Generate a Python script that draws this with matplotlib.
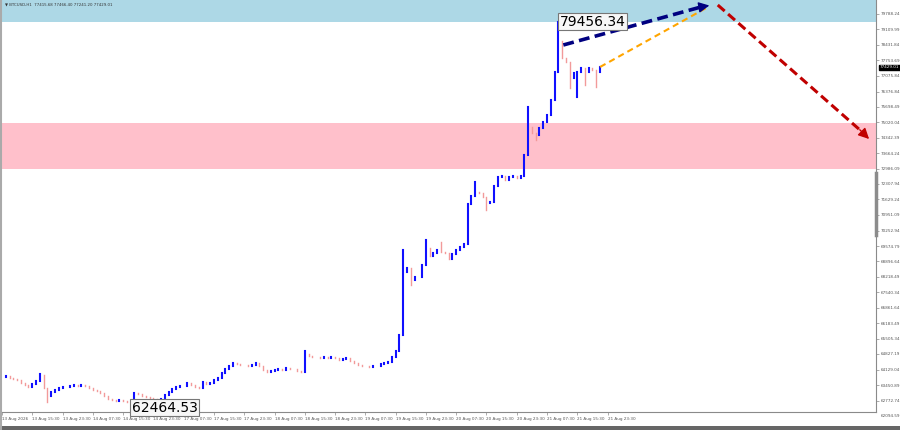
import matplotlib.pyplot as plt

# hourly closes, BTCUSD H1
closes = [
    63816, 63860, 63772, 63728, 63684, 63552, 63464, 63376, 63508, 63640,
    63904, 63332, 62980, 63156, 63244, 63332, 63376, 63390, 63420, 63464,
    63420, 63464, 63420, 63332, 63244, 63200, 63112, 62980, 62848, 62804,
    62760, 62804, 62760, 62716, 62540, 63112, 63068, 62980, 62936, 62892,
    62848, 62804, 62848, 63024, 63156, 63288, 63376, 63420, 63430, 63552,
    63464, 63376, 63332, 63596, 63508, 63552, 63684, 63772, 63992, 64168,
    64300, 64432, 64388, 64344, 64350, 64300, 64344, 64432, 64300, 64124,
    64036, 64080, 64124, 64168, 64124, 64212, 64168, 64160, 64080, 64036,
    64828, 64740, 64696, 64700, 64652, 64696, 64652, 64696, 64652, 64564,
    64608, 64652, 64520, 64432, 64344, 64300, 64290, 64256, 64300, 64310,
    64388, 64432, 64476, 64696, 64960, 65664, 68436, 68612, 68084, 68216,
    68230, 68744, 69492, 69140, 69272, 69404, 69316, 69272, 69008, 69228,
    69404, 69536, 69668, 71428, 71780, 71956, 71912, 71736, 71472, 71516,
    72220, 72616, 72660, 72484, 72616, 72660, 72572, 72660, 73584, 74816,
    74552, 74464, 74772, 75036, 75344, 76004, 77236, 78600, 77852, 77676,
    76972, 77192, 77236, 77412, 77236, 77412, 77324, 77236, 77456,
]
# wicks that stick out of the open/close range
spike_highs = {10: 63950, 80: 64960, 106: 69404, 112: 69844, 116: 69756,
               125: 72396, 139: 75696, 147: 79456.34}
spike_lows = {12: 62716, 34: 62464.53, 108: 67864, 128: 71164, 141: 74244,
              150: 76532, 152: 76136, 154: 76664, 157: 76576}

high_label = "79456.34"
low_label = "62464.53"
high_bar, low_bar = 147, 34

time_labels = ["13 Aug 2026", "13 Aug 15:30", "13 Aug 23:30", "14 Aug 07:30",
               "14 Aug 15:30", "14 Aug 23:30", "17 Aug 07:30", "17 Aug 15:30",
               "17 Aug 23:30", "18 Aug 07:30", "18 Aug 15:30", "18 Aug 23:30",
               "19 Aug 07:30", "19 Aug 15:30", "19 Aug 23:30", "20 Aug 07:30",
               "20 Aug 15:30", "20 Aug 23:30", "21 Aug 07:30", "21 Aug 15:30",
               "21 Aug 23:30"]
price_labels = ["79788.24", "79109.99", "78431.84", "77753.69", "77075.84",
                "76376.84", "75698.49", "75020.04", "74342.39", "73664.24",
                "72986.09", "72307.94", "71629.24", "70951.09", "70252.94",
                "69574.79", "68896.64", "68218.49", "67540.34", "66861.64",
                "66183.49", "65505.34", "64827.19", "64129.04", "63450.89",
                "62772.74"]
bottom_label = "62094.59"

# zones
resist_zone = (79436, 80500)
support_zone = (72968, 74992)

# forecast path (bar index, price)
wave_start = (148.3, 78424)
wave_top = (187.6, 80184)
alt_top = (186.5, 80096)
wave_end = (229.6, 74200)

fig = plt.figure(figsize=(9, 4.3), dpi=100)
fig.patch.set_facecolor("white")
ax = fig.add_axes([0.0022, 0.042, 0.971, 0.958])
ax.set_xlim(0.264, 230.87)
ax.set_ylim(62276, 80404)

ax.axhspan(*resist_zone, color="#add8e6", zorder=0, lw=0)
ax.axhspan(*support_zone, color="#ffc0cb", zorder=0, lw=0)

opens = [closes[0]] + closes[:-1]
for i, (o, c) in enumerate(zip(opens, closes)):
    hi = spike_highs.get(i, max(o, c))
    lo = spike_lows.get(i, min(o, c))
    if c >= o:
        ax.plot([i, i], [lo, hi], color="#1010ff", lw=1.5,
                solid_capstyle="projecting", zorder=3)
    else:
        ax.plot([i, i], [lo, hi], color="#f29a9a", lw=1.0,
                solid_capstyle="projecting", zorder=3)

# high / low labels
box = dict(boxstyle="square,pad=0.12", fc="#f7f7f7", ec="#777777", lw=0.8)
ax.text(high_bar + 0.3, spike_highs[high_bar], high_label, fontsize=10,
        ha="left", va="center", bbox=box, zorder=6)
ax.text(low_bar + 0.3, spike_lows[low_bar], low_label, fontsize=10,
        ha="left", va="center", bbox=box, zorder=6, clip_on=False)

# forecast arrows
ax.plot([len(closes) - 1, alt_top[0]], [closes[-1], alt_top[1]],
        color="#ffa500", lw=1.5, ls=(0, (3, 2)), zorder=4)
ax.plot([wave_start[0], wave_top[0] - 3], [wave_start[1], wave_top[1] - 90],
        color="#000080", lw=2.6, ls=(0, (3, 1.5)), zorder=5)
ax.annotate("", xy=wave_top, xytext=(wave_top[0] - 5, wave_top[1] - 150),
            arrowprops=dict(arrowstyle="-|>", color="#000080", lw=1,
                            mutation_scale=16), zorder=5)
ax.plot([wave_top[0] + 1.5, wave_end[0] - 2.5], [wave_top[1], wave_end[1] + 420],
        color="#c00000", lw=2.2, ls=(0, (3, 1.5)), zorder=5)
ax.annotate("", xy=wave_end, xytext=(wave_end[0] - 3.5, wave_end[1] + 580),
            arrowprops=dict(arrowstyle="-|>", color="#c00000", lw=1,
                            mutation_scale=16), zorder=5, annotation_clip=False)

# axes look
for s in ["top", "left"]:
    ax.spines[s].set_visible(False)
for s in ["right", "bottom"]:
    ax.spines[s].set_color("#8a8a8a")
    ax.spines[s].set_linewidth(0.8)

ax.set_xticks([8 * k for k in range(len(time_labels))])
ax.set_xticklabels(time_labels, fontsize=3, color="#555555", ha="left")
ax.yaxis.tick_right()
ax.set_yticks([float(p) for p in price_labels])
ax.set_yticklabels(price_labels, fontsize=3, color="#555555")
ax.tick_params(axis="both", length=2, width=0.5, color="#8a8a8a", pad=1.5)
ax.annotate(bottom_label, xy=(1.0, float(bottom_label)),
            xycoords=("axes fraction", "data"), xytext=(3.5, 0),
            textcoords="offset points", fontsize=3, color="#555555",
            va="center", annotation_clip=False)

# scroll marker along the price scale
ax.plot([1.0, 1.0], [70064, 72792], transform=ax.get_yaxis_transform(),
        color="#8c8c8c", lw=2.5, clip_on=False, zorder=7)

# current price tag
ax.annotate("77429.01", xy=(1.0, 77440), xycoords=("axes fraction", "data"),
            xytext=(3, 0), textcoords="offset points", fontsize=3,
            color="white", va="center", annotation_clip=False,
            bbox=dict(boxstyle="square,pad=0.15", fc="black", ec="black"))

fig.text(5 / 900, 1 - 3 / 430, "\u25bc BTCUSD,H1  77415.68 77466.40 77241.20 77429.01",
         fontsize=2.8, color="#333333", va="top", ha="left")

# window borders
fig.add_artist(plt.Line2D([0.001, 0.001], [0.0, 1.0], color="#aaaaaa", lw=1.5))
fig.add_artist(plt.Rectangle((0, 0), 1, 4 / 430, color="#666666", lw=0))

fig.savefig("out.png", dpi=100)
